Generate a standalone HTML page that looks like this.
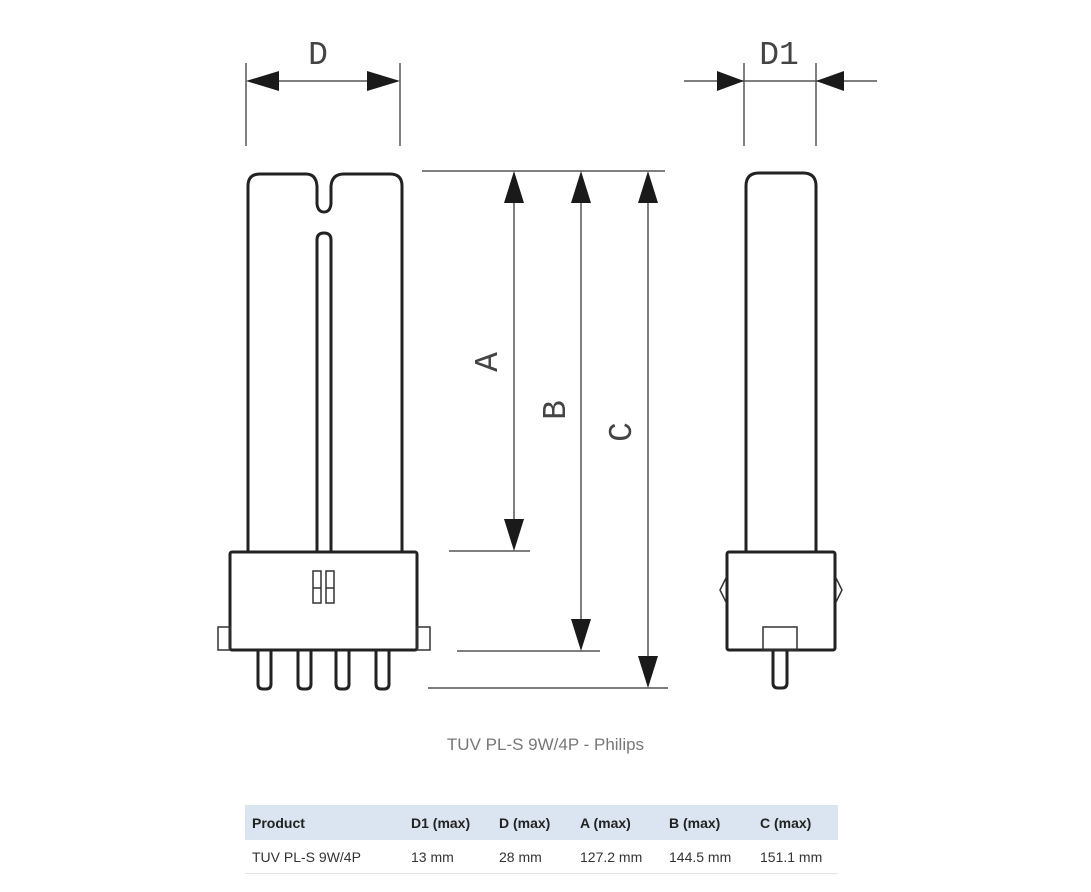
<!DOCTYPE html>
<html><head><meta charset="utf-8"><style>
body{margin:0;background:#fff;width:1091px;height:892px;overflow:hidden;position:relative;font-family:"Liberation Sans",sans-serif}
svg{position:absolute;left:0;top:0}
.cap{position:absolute;left:0;width:1091px;top:735px;text-align:center;color:#777;font-size:17px}
table{position:absolute;left:245px;top:805px;width:593px;border-collapse:collapse;font-size:14px;color:#333}
th{background:#dbe5f1;text-align:left;font-weight:bold;height:35px;padding:0 0 0 7px;color:#222}
td{height:33px;padding:0 0 0 7px;border-bottom:1px solid #e4e4e4}
</style></head><body>
<svg width="1091" height="892" viewBox="0 0 1091 892">
<g fill="none" stroke="#222" stroke-width="3" stroke-linejoin="round">
<path d="M248,552 V186 Q248,174 260,174 H306 Q316,174 317,186 V204 Q318,212 324,212 Q330,212 331,204 V186 Q332,174 344,174 H390 Q402,174 402,186 V552"/>
<path d="M317,552 V240 Q317,233 324,233 Q331,233 331,240 V552"/>
<rect x="230" y="552" width="187" height="98" rx="2"/>
<path d="M258,650 V684 Q258,689 263,689 H266 Q271,689 271,684 V650"/>
<path d="M298,650 V684 Q298,689 303,689 H306 Q311,689 311,684 V650"/>
<path d="M336,650 V684 Q336,689 341,689 H344 Q349,689 349,684 V650"/>
<path d="M376,650 V684 Q376,689 381,689 H384 Q389,689 389,684 V650"/>
<path d="M746,552 V186 Q746,173 759,173 H803 Q816,173 816,186 V552"/>
<rect x="727" y="552" width="108" height="98" rx="2"/>
<path d="M773,650 V683 Q773,688 778,688 H782 Q787,688 787,683 V650"/>
</g>
<g fill="none" stroke="#333" stroke-width="1.5">
<rect x="313" y="571" width="8" height="32"/><rect x="326" y="571" width="8" height="32"/>
<line x1="313" y1="588" x2="321" y2="588"/><line x1="326" y1="588" x2="334" y2="588"/>
<rect x="218" y="627" width="12" height="23"/><rect x="417" y="627" width="13" height="23"/>
<rect x="763" y="627" width="34" height="23"/>
<path d="M726,578 L720,590 L726,602"/><path d="M836,578 L842,590 L836,602"/>
</g>
<g stroke="#555" stroke-width="1.5">
<line x1="246" y1="63" x2="246" y2="146"/><line x1="400" y1="63" x2="400" y2="146"/>
<line x1="270" y1="81" x2="375" y2="81"/>
<line x1="744" y1="63" x2="744" y2="146"/><line x1="816" y1="63" x2="816" y2="146"/>
<line x1="684" y1="81" x2="877" y2="81"/>
<line x1="422" y1="171" x2="665" y2="171"/>
<line x1="449" y1="551" x2="530" y2="551"/>
<line x1="457" y1="651" x2="600" y2="651"/>
<line x1="428" y1="688" x2="668" y2="688"/>
<line x1="514" y1="200" x2="514" y2="525"/>
<line x1="581" y1="200" x2="581" y2="625"/>
<line x1="648" y1="200" x2="648" y2="662"/>
</g>
<g fill="#1a1a1a">
<polygon points="246,81 279,71 279,91"/><polygon points="400,81 367,71 367,91"/>
<polygon points="744,81 717,71 717,91"/><polygon points="816,81 844,71 844,91"/>
<polygon points="514,171 504,203 524,203"/><polygon points="514,551 504,519 524,519"/>
<polygon points="581,171 571,203 591,203"/><polygon points="581,651 571,619 591,619"/>
<polygon points="648,171 638,203 658,203"/><polygon points="648,688 638,656 658,656"/>
</g>
<g font-family="'Liberation Mono',monospace" font-size="33" fill="#444" text-anchor="middle">
<text x="318" y="64">D</text>
<text x="779" y="64">D1</text>
<text transform="translate(497,362) rotate(-90)">A</text>
<text transform="translate(565,410) rotate(-90)">B</text>
<text transform="translate(631,432) rotate(-90)">C</text>
</g>
</svg>
<div class="cap">TUV PL-S 9W/4P - Philips</div>
<table>
<tr><th style="width:152px">Product</th><th style="width:81px">D1 (max)</th><th style="width:74px">D (max)</th><th style="width:82px">A (max)</th><th style="width:84px">B (max)</th><th>C (max)</th></tr>
<tr><td>TUV PL-S 9W/4P</td><td>13 mm</td><td>28 mm</td><td>127.2 mm</td><td>144.5 mm</td><td>151.1 mm</td></tr>
</table>
</body></html>
